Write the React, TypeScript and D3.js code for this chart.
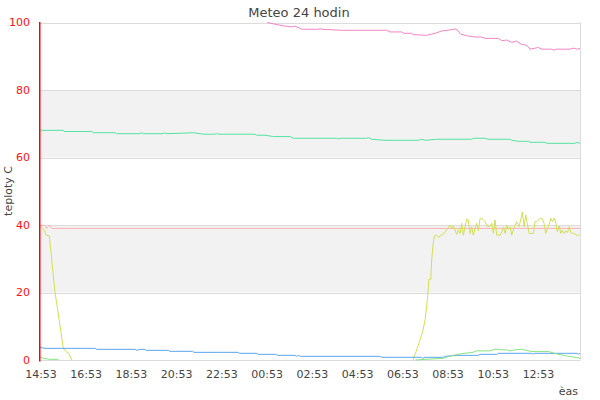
import React from "react";
import * as d3 from "d3";

type P = [number, number | null];

const title = "Meteo 24 hodin";
const yTitle = "teploty C";
const xTitle = "èas";
const xTickHours = [0, 2, 4, 6, 8, 10, 12, 14, 16, 18, 20, 22];
const xTickLabels = ["14:53", "16:53", "18:53", "20:53", "22:53", "00:53", "02:53", "04:53", "06:53", "08:53", "10:53", "12:53"];
const yTicks = [0, 20, 40, 60, 80, 100];

const pinkSeries: P[] = [
  [10.05, 100], [10.32, 99.6], [10.76, 99.0], [11.13, 98.7], [11.28, 98.9], [11.5, 98.3], [11.57, 98.0],
  [12.3, 98.0], [12.38, 98.2], [12.46, 98.0], [13.34, 97.7], [15.33, 97.7], [15.48, 97.2], [16.0, 97.2],
  [16.07, 96.8], [16.44, 96.8], [16.51, 96.4], [17.1, 96.2], [17.47, 96.8], [17.77, 97.5], [18.13, 97.8],
  [18.4, 98.1], [18.61, 96.5], [18.94, 96.0], [19.24, 95.7], [19.54, 95.7], [19.68, 95.3], [20.27, 95.3],
  [20.42, 94.6], [20.64, 94.8], [20.86, 94.1], [21.08, 94.5], [21.23, 93.7], [21.53, 93.2], [21.67, 92.1],
  [22.04, 92.6], [22.19, 92.1], [22.63, 92.1], [22.7, 91.8], [22.85, 92.1], [23.44, 92.1], [23.59, 92.4],
  [23.74, 92.1], [23.88, 92.3],
];

const tealSeries: P[] = [
  [0, 68.05], [1.03, 68.05], [1.06, 67.7], [2.29, 67.7], [2.36, 67.35], [3.32, 67.35], [3.39, 67.06],
  [4.42, 67.06], [4.5, 67.35], [4.57, 67.06], [5.44, 67.06], [5.5, 67.35], [5.56, 67.06], [6.3, 67.2],
  [6.78, 67.35], [7.22, 66.9], [7.75, 66.9], [7.81, 67.1], [7.89, 66.9], [9.51, 66.9], [9.58, 66.6],
  [9.95, 66.6], [10.32, 66.2], [11.06, 66.2], [11.2, 65.7], [13.12, 65.7], [13.19, 65.5], [13.27, 65.7],
  [14.45, 65.7], [14.52, 65.9], [14.67, 65.4], [15.26, 65.1], [16.73, 65.1], [16.88, 65.4], [17.03, 65.1],
  [17.55, 65.4], [19.09, 65.4], [19.16, 65.7], [19.68, 65.7], [19.81, 65.4], [20.79, 65.4], [20.86, 65.1],
  [21.15, 64.8], [21.6, 64.8], [21.67, 64.5], [22.34, 64.5], [22.41, 64.2], [23.66, 64.2], [23.76, 64.5],
  [23.88, 64.2],
];

const salmonSeries: P[] = [
  [0, 39.9], [0.21, 39.9], [0.29, 39.0], [0.41, 39.9], [0.52, 39.0], [23.88, 39.0],
];

const yellowSeries: P[] = [
  [0.01, 39.7], [0.18, 38.5], [0.27, 37.0], [0.41, 36.8], [0.47, 33.0], [0.66, 20.2], [0.88, 10.4],
  [1.03, 3.5], [1.15, 2.5], [1.27, 2.0], [1.4, 0], [1.41, null],
  [16.5, 0], [16.73, 4.4], [16.92, 8.4], [17.03, 11.9], [17.13, 17.8], [17.2, 23.9], [17.28, 23.9],
  [17.32, 29.6], [17.39, 34.6], [17.44, 36.7], [17.54, 37.0], [17.63, 36.3], [17.74, 37.0], [17.84, 37.3],
  [17.92, 38.0], [17.99, 38.7], [18.14, 40.0], [18.21, 39.0], [18.28, 39.7], [18.43, 37.2], [18.5, 38.6],
  [18.58, 37.5], [18.65, 40.5], [18.72, 37.0], [18.8, 39.5], [18.87, 41.8], [18.94, 41.5], [19.02, 37.5],
  [19.09, 39.5], [19.16, 37.0], [19.31, 40.5], [19.39, 38.3], [19.46, 42.0], [19.57, 41.8], [19.68, 41.0],
  [19.79, 39.5], [19.87, 39.5], [19.98, 40.5], [20.05, 37.5], [20.12, 41.5], [20.2, 37.0], [20.35, 37.0],
  [20.42, 38.0], [20.49, 39.3], [20.57, 37.5], [20.64, 40.0], [20.71, 38.7], [20.79, 39.5], [20.86, 37.0],
  [20.93, 38.5], [21.01, 40.0], [21.08, 41.0], [21.18, 39.5], [21.26, 41.5], [21.33, 43.9], [21.41, 39.5],
  [21.48, 43.0], [21.55, 40.5], [21.63, 37.5], [21.82, 37.5], [21.89, 41.0], [21.97, 41.0], [22.12, 42.0],
  [22.22, 41.8], [22.29, 40.5], [22.37, 37.5], [22.44, 39.0], [22.51, 40.0], [22.59, 42.0], [22.66, 41.0],
  [22.74, 42.0], [22.81, 40.5], [22.88, 38.0], [22.96, 39.7], [23.03, 37.5], [23.1, 38.5], [23.18, 37.5],
  [23.25, 38.2], [23.33, 37.8], [23.4, 39.5], [23.47, 37.8], [23.55, 37.5], [23.62, 37.6], [23.7, 37.0],
  [23.85, 37.0],
];

const blueSeries: P[] = [
  [0, 3.75], [0.22, 3.45], [2.44, 3.45], [2.51, 3.16], [4.2, 3.16], [4.28, 2.86], [4.42, 3.16], [4.65, 3.16],
  [4.69, 2.86], [5.67, 2.86], [5.75, 2.57], [6.75, 2.57], [6.81, 2.27], [8.77, 2.27], [8.81, 1.98],
  [9.58, 1.98], [9.65, 1.68], [10.42, 1.68], [10.5, 1.38], [11.28, 1.38], [11.35, 1.09], [11.43, 1.38],
  [11.5, 1.09], [15.04, 1.09], [15.11, 0.8], [16.88, 0.8], [16.92, 0.5], [17.03, 0.8], [17.84, 0.8],
  [17.92, 1.09], [18.43, 1.38], [19.39, 1.38], [19.46, 1.68], [20.2, 1.68], [20.27, 1.98], [21.74, 1.98],
  [21.81, 1.75], [21.88, 1.98], [23.74, 1.98], [23.8, 1.7], [23.88, 1.98],
];

const greenSeries: P[] = [
  [0, 0.9], [0.15, 0.5], [0.41, 0.2], [0.82, 0.2], [0.83, null],
  [16.6, 0], [17.03, 0.2], [17.84, 0.5], [18.06, 1.0], [18.5, 1.7], [18.8, 2.0], [19.16, 2.3], [19.31, 2.7],
  [19.9, 2.7], [20.12, 3.2], [20.49, 3.0], [20.64, 3.0], [20.79, 2.7], [21.0, 3.0], [21.3, 3.2], [21.6, 2.7],
  [21.8, 2.5], [22.0, 2.5], [22.5, 2.5], [22.85, 1.8], [23.29, 1.2], [23.74, 0.7], [23.88, 0.5],
];

const seriesList: { data: P[]; color: string }[] = [
  { data: pinkSeries, color: "#f484c4" },
  { data: tealSeries, color: "#55e3a0" },
  { data: salmonSeries, color: "#ffb0b0" },
  { data: yellowSeries, color: "#d2e050" },
  { data: blueSeries, color: "#5ca4f0" },
  { data: greenSeries, color: "#86e47e" },
];

const FONT = "DejaVu Sans, sans-serif";

export default function App() {
  const x = d3.scaleLinear().domain([0, 23.88]).range([40, 580]);
  const y = d3.scaleLinear().domain([0, 100]).range([360, 22.5]);
  const line = d3
    .line<P>()
    .defined((d) => d[1] !== null)
    .x((d) => x(d[0]))
    .y((d) => y(d[1] as number));

  const bands = [
    [60, 80],
    [20, 40],
  ];

  return (
    <svg
      width={600}
      height={400}
      style={{ position: "absolute", left: 0, top: 0, background: "#fff" }}
      fontFamily={FONT}
    >
      <rect x={0} y={0} width={600} height={400} fill="#fff" />
      {bands.map(([a, b]) => (
        <rect key={a} x={x(0)} y={y(b)} width={x(23.88) - x(0)} height={y(a) - y(b)} fill="#f2f2f2" />
      ))}
      {yTicks.map((t) => (
        <line key={t} x1={x(0)} x2={x(23.88)} y1={Math.round(y(t)) + 0.5} y2={Math.round(y(t)) + 0.5} stroke="#dcdcdc" />
      ))}
      <line x1={580.5} x2={580.5} y1={22.5} y2={360.5} stroke="#dcdcdc" />
      {seriesList.map((s, i) => (
        <path key={i} d={line(s.data) || ""} fill="none" stroke={s.color} strokeWidth={1} />
      ))}
      <line x1={39.75} x2={39.75} y1={22} y2={361.5} stroke="#ff0000" strokeWidth={1.5} />
      {yTicks.map((t) => (
        <text key={t} x={30} y={y(t)} dy="0.35em" textAnchor="end" fontSize={11} fill="#ff1010">
          {t}
        </text>
      ))}
      {xTickHours.map((h, i) => (
        <text key={h} x={x(h) + 1} y={378} textAnchor="middle" fontSize={11} fill="#444">
          {xTickLabels[i]}
        </text>
      ))}
      <text x={299} y={16.5} textAnchor="middle" fontSize={13} fill="#444">
        {title}
      </text>
      <text transform="translate(12,191) rotate(-90)" textAnchor="middle" fontSize={11} fill="#444">
        {yTitle}
      </text>
      <text x={578} y={395} textAnchor="end" fontSize={11} fill="#444">
        {xTitle}
      </text>
    </svg>
  );
}
